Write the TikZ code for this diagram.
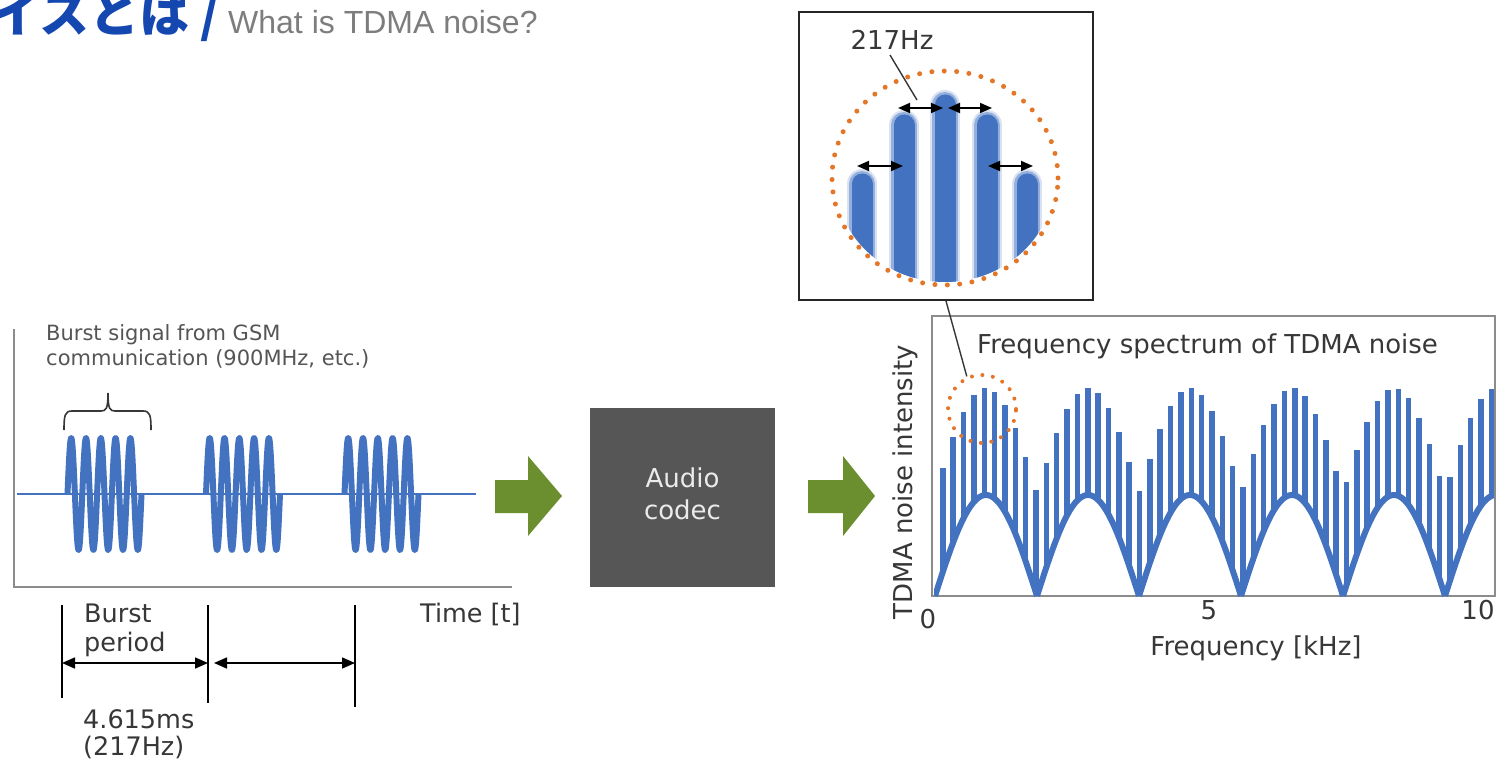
\documentclass[tikz,border=0pt]{standalone}
\usepackage{fontspec}
\newfontfamily\vfont{DejaVu Sans}
\newfontfamily\afont{Liberation Sans}
\newfontfamily\cjk{Noto Sans CJK JP}
\usetikzlibrary{arrows.meta}
\definecolor{sigblue}{RGB}{66,114,192}
\definecolor{titleblue}{RGB}{20,72,176}
\definecolor{titlegray}{RGB}{125,125,125}
\definecolor{axisgray}{RGB}{140,140,140}
\definecolor{txtgray}{RGB}{85,85,85}
\definecolor{txtdark}{RGB}{55,55,55}
\definecolor{arrowgreen}{RGB}{107,142,47}
\definecolor{codecgray}{RGB}{86,86,86}
\definecolor{dotorange}{RGB}{228,118,40}
\tikzset{
  axisline/.style={draw=axisgray, line width=2pt},
  burst/.style={draw=sigblue, line width=6pt, line join=round},
  baseline/.style={draw=sigblue, line width=2.5pt},
  brace/.style={draw=txtdark, line width=1.6pt},
  tickline/.style={draw=black, line width=1.6pt},
  dimarr/.style={{Triangle[length=13pt,width=11pt]}-{Triangle[length=13pt,width=11pt]}, line width=1.6pt, draw=black},
  smallarr/.style={{Triangle[length=12pt,width=10pt]}-{Triangle[length=12pt,width=10pt]}, line width=1.8pt, draw=black},
  greenarrow/.style={fill=arrowgreen},
  lbl/.style={inner sep=0pt, text=txtdark, font=\vfont\fontsize{25.5pt}{30pt}\selectfont},
  speclbl/.style={inner sep=0pt, text=txtdark, font=\vfont\fontsize{26pt}{30pt}\selectfont},
  spec/.style={draw=sigblue, line width=5.5pt},
  env/.style={draw=sigblue, line width=6pt, line join=round},
  frame/.style={draw=axisgray, line width=1.8pt},
  leader/.style={draw=txtdark, line width=1.4pt},
  orangedots/.style={draw=dotorange, line width=5pt, line cap=round, dash pattern=on 0pt off 12.4pt},
  smalldots/.style={draw=dotorange, line width=4pt, line cap=round, dash pattern=on 0pt off 10.6pt},
}
\begin{document}
\begin{tikzpicture}[x=1pt,y=-1pt]
\useasboundingbox[fill=white] (0,0) rectangle (1498,762);

% ---------- title ----------
\node[anchor=base east, inner sep=0pt, text=titleblue, font=\cjk\bfseries\fontsize{50pt}{50pt}\selectfont] (ja) at (220,33)
  {イスとは /};
\node[anchor=base west, inner sep=0pt, text=titlegray, font=\afont\fontsize{32pt}{32pt}\selectfont] (en) at (228,34)
  {What is TDMA noise?};

% ---------- left time plot ----------
\draw[axisline] (14,329) -- (14,587) -- (512,587);
\node[anchor=base west, inner sep=0pt, text=txtgray, align=left,
      font=\vfont\fontsize{21pt}{25pt}\selectfont] (bursttxt) at (46,365)
  {Burst signal from GSM\\communication (900MHz, etc.)};

% brace
\coordinate (brl) at (64,430);
\coordinate (brr) at (151,430);
\coordinate (brt) at (108,393);
\draw[brace] (brl) .. controls (64,415) and (65,411) .. (72,411) -- (101,411)
  .. controls (106,411) and (108,409) .. (brt);
\draw[brace] (brr) .. controls (151,415) and (150,411) .. (143,411) -- (115,411)
  .. controls (110,411) and (108,409) .. (brt);

% baseline and bursts
\draw[baseline] (17,494) -- (476,494);
\foreach \bx in {67.5,206,344.5}{
  \draw[burst] plot[domain=0:1800, samples=240] ({\bx+\x/360*14.8}, {494-56*sin(\x)});
}

% time annotations
\coordinate (t1a) at (62,605); \coordinate (t1b) at (62,698);
\coordinate (t2a) at (208,605); \coordinate (t2b) at (208,703);
\coordinate (t3a) at (355,605); \coordinate (t3b) at (355,707);
\draw[tickline] (t1a) -- (t1b);
\draw[tickline] (t2a) -- (t2b);
\draw[tickline] (t3a) -- (t3b);
\coordinate (a1l) at (62,663); \coordinate (a1r) at (208,663);
\coordinate (a2l) at (214,663); \coordinate (a2r) at (355,663);
\draw[dimarr] (a1l) -- (a1r);
\draw[dimarr] (a2l) -- (a2r);
\node[lbl, anchor=base west] (burstp1) at (84,622) {Burst};
\node[lbl, anchor=base west] (burstp2) at (84,651) {period};
\node[lbl, anchor=base west] (tval1) at (83,728) {4.615ms};
\node[lbl, anchor=base west] (tval2) at (83,755) {(217Hz)};
\node[lbl, anchor=base west] (timelbl) at (420,622) {Time [t]};

% ---------- arrows and codec ----------
\fill[greenarrow] (495,480) -- (528,480) -- (528,456) -- (562,496) -- (528,536) -- (528,513) -- (495,513) -- cycle;
\node[fill=codecgray, minimum width=185pt, minimum height=179pt, inner sep=0pt] (codec) at (682.5,497.5) {};
\node[inner sep=0pt, text=white!92!black, align=center, font=\vfont\fontsize{26pt}{32pt}\selectfont] (codectxt) at (682.5,494)
  {Audio\\codec};
\fill[greenarrow] (808,480) -- (843,480) -- (843,456) -- (875,496) -- (843,536) -- (843,513) -- (808,513) -- cycle;

% ---------- spectrum plot ----------
\draw[frame] (932,316) rectangle (1495,596);
\begin{scope}
  \clip (934,300) rectangle (1494,597);
  \foreach \k in {0,...,5}{
    \draw[env] plot[domain={935+102*\k}:{935+102*(\k+1)}, samples=60]
      (\x, {596-101*abs(sin(1.764706*(\x-935)))});
  }
  \foreach \j in {-9,...,44}{
    \pgfmathsetmacro\xxv{1036+10.35*\j}
    \pgfmathsetmacro\svv{abs(sin(1.764706*(\xxv-935)))}
    \draw[spec] (\xxv, {596-101*\svv}) -- (\xxv, {596-103-105*\svv});
  }
\end{scope}
\node[speclbl, anchor=base west] (spectitle) at (977,353) {Frequency spectrum of TDMA noise};
\node[speclbl, rotate=90] (ylab) at (905,482) {TDMA noise intensity};
\node[speclbl] (x0) at (928,619) {0};
\node[speclbl] (x5) at (1209,610) {5};
\node[speclbl] (x10) at (1478,610) {10};
\node[speclbl] (xlab) at (1256,648) {Frequency [kHz]};

% small dotted circle
\node[circle, minimum size=68pt, inner sep=0pt, smalldots] (smallc) at (982,409) {};

% ---------- inset ----------
\node[draw=black!85, line width=2pt, minimum width=294pt, minimum height=288pt, inner sep=0pt] (inset) at (946,156) {};
\begin{scope}
  \clip (945,178) ellipse [x radius=110pt, y radius=104pt];
  \foreach \bx/\bt in {862/172, 904/113, 945/93, 987/113, 1027/172}{
    \draw[draw=sigblue, opacity=0.2, line width=30pt, line cap=round] (\bx,\bt+12) -- (\bx,320);
    \draw[draw=sigblue, opacity=0.45, line width=26pt, line cap=round] (\bx,\bt+12) -- (\bx,320);
    \draw[draw=sigblue, line width=21pt, line cap=round] (\bx,\bt+12) -- (\bx,320);
  }
\end{scope}
\draw[orangedots] (945,178) ellipse [x radius=113pt, y radius=107pt];
\coordinate (i1l) at (898,108); \coordinate (i1r) at (943,108);
\coordinate (i2l) at (948,108); \coordinate (i2r) at (992,108);
\coordinate (i3l) at (857,166); \coordinate (i3r) at (903,166);
\coordinate (i4l) at (988,166); \coordinate (i4r) at (1033,166);
\draw[smallarr] (i1l) -- (i1r);
\draw[smallarr] (i2l) -- (i2r);
\draw[smallarr] (i3l) -- (i3r);
\draw[smallarr] (i4l) -- (i4r);
\node[speclbl] (hz) at (892,40) {217Hz};
\coordinate (hzend) at (917,100);
\draw[leader] (890,55) -- (hzend);

% leader from inset to small circle
\draw[leader] (inset.south) -- (smallc.115);
\end{tikzpicture}
\end{document}
